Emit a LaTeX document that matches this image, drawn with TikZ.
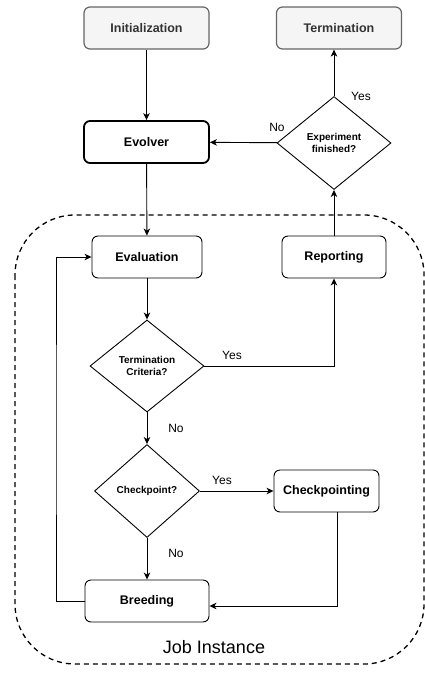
\documentclass[tikz,border=0pt]{standalone}
\usepackage{fontspec}
\setmainfont{Liberation Sans}
\usepackage{tikz}
\usetikzlibrary{arrows.meta}
\usetikzlibrary{shapes.geometric}

\definecolor{endfill}{HTML}{F5F5F5}
\definecolor{enddraw}{HTML}{666666}
\definecolor{endtext}{HTML}{333333}

\begin{document}
\begin{tikzpicture}[x=1pt,y=-1pt,line width=0.9pt,
    stagebox/.style={draw, rounded corners=6pt, minimum height=42pt,
        inner sep=0pt, font=\fontsize{12.5}{14}\selectfont\bfseries},
    endbox/.style={stagebox, fill=endfill, draw=enddraw, text=endtext,
        line width=1.2pt, minimum width=125pt},
    decision/.style={draw, diamond, inner sep=0pt, align=center,
        font=\fontsize{10}{12}\selectfont\bfseries},
    arr/.style={-{Stealth[length=7pt,width=6.5pt,inset=2pt]}},
    lbl/.style={font=\fontsize{12}{14}\selectfont, inner sep=0pt}]
    \useasboundingbox (0,0) rectangle (425,675);

    % job instance frame
    \draw[line width=1.3pt, dash pattern=on 5pt off 4pt, rounded corners=60pt]
        (15,215) rectangle (424,664);
    \node[font=\fontsize{18}{20}\selectfont] (job) at (214,647) {Job Instance};

    % draws stages
    \node[endbox] (init) at (146.5,28) {Initialization};
    \node[endbox] (term) at (339,28) {Termination};
    \node[stagebox, line width=1.8pt, minimum width=125pt] (evolver) at (146.5,142) {Evolver};
    \node[stagebox, minimum width=110pt] (eval) at (147,257) {Evaluation};
    \node[stagebox, minimum width=104pt] (report) at (334,257) {Reporting};
    \node[stagebox, minimum width=105pt] (chkpt) at (326.5,491) {Checkpointing};
    \node[stagebox, minimum width=124pt] (breed) at (147,601) {Breeding};

    % draws decisions
    \node[decision, minimum width=114pt, minimum height=93pt] (expdone) at (334,143) {Experiment\\finished?};
    \node[decision, minimum width=114pt, minimum height=92pt] (tcrit) at (147,366) {Termination\\Criteria?};
    \node[decision, minimum width=105pt, minimum height=93pt] (chk) at (147,491) {Checkpoint?};

    % draws connectors
    \coordinate (back) at (56,430);
    \draw[arr] (init) -- (evolver);
    \draw[arr] (expdone) -- (evolver);
    \draw[arr] (expdone.north) -- (expdone.north |- term.south);
    \draw[arr] (evolver) -- (eval);
    \draw[arr] (report) -- (expdone);
    \draw[arr] (eval) -- (tcrit);
    \draw[arr] (tcrit.east) -| (report);
    \draw[arr] (tcrit) -- (chk);
    \draw[arr] (chk) -- (chkpt);
    \draw[arr] (chk) -- (breed);
    \draw[arr] ([xshift=10.5pt]chkpt.south) |- ([yshift=-5pt]breed.east);
    \draw[arr] (breed.west) -| (back) |- (eval.west);

    % labels branches
    \node[lbl] (noexp) at (277,127) {No};
    \node[lbl] (yesexp) at (361,96) {Yes};
    \node[lbl] (yestc) at (232,355) {Yes};
    \node[lbl] (notc) at (176,428) {No};
    \node[lbl] (yeschk) at (222,480) {Yes};
    \node[lbl] (nochk) at (176,553) {No};
\end{tikzpicture}
\end{document}
